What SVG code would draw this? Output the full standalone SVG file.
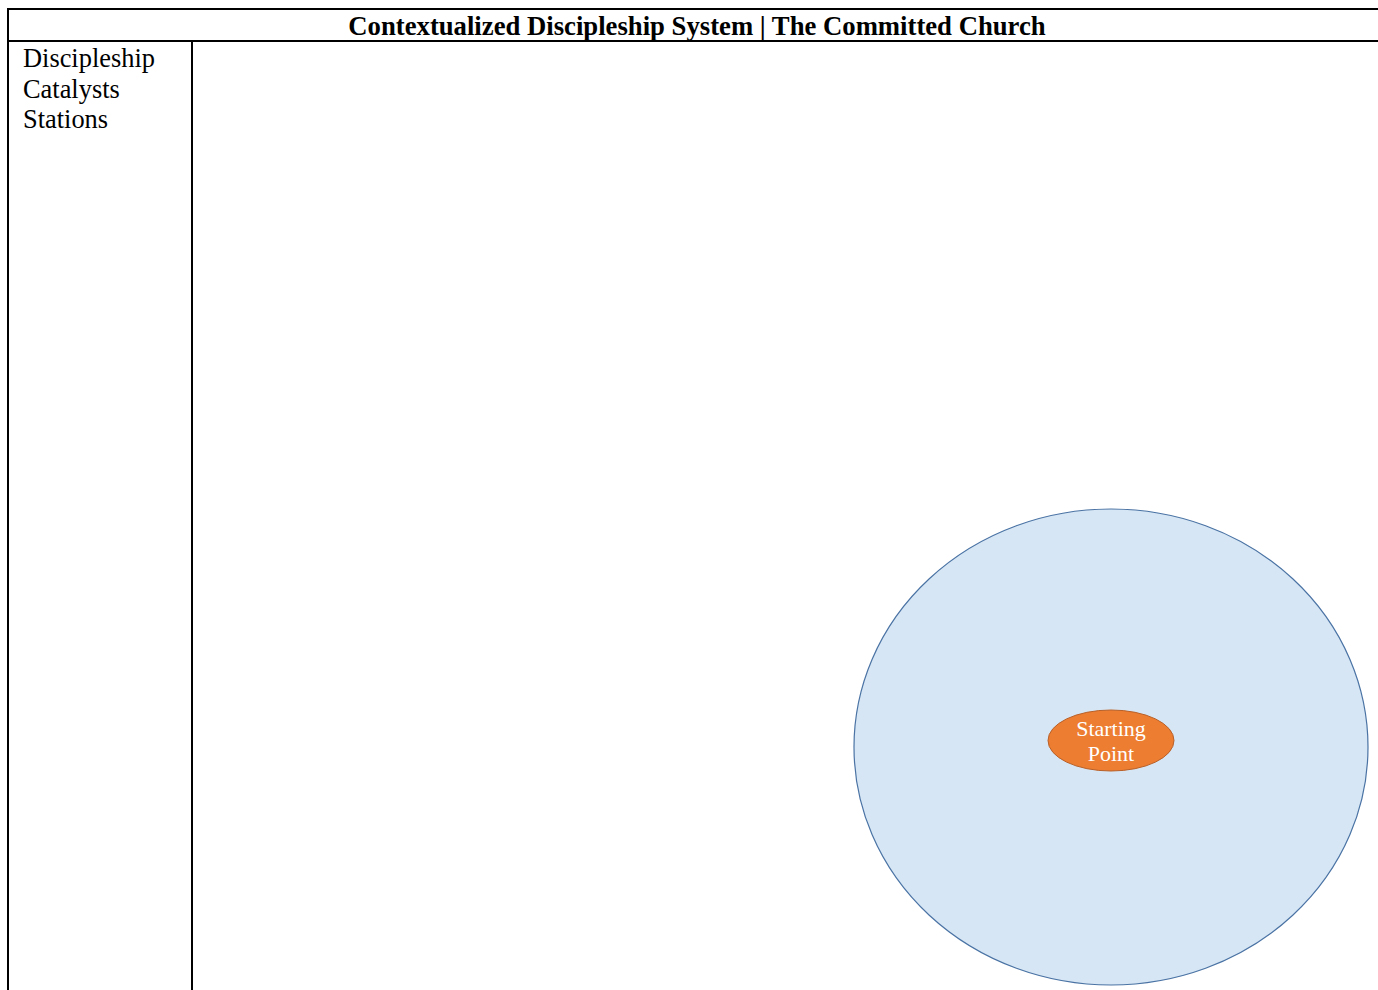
<svg xmlns="http://www.w3.org/2000/svg" width="1378" height="990" viewBox="0 0 1378 990">
<style>
.rule{stroke:#000;stroke-width:2;fill:none}
.title{font-family:"Liberation Serif","Times New Roman",serif;font-weight:bold;font-size:26.7px;fill:#000}
.side{font-family:"Liberation Serif","Times New Roman",serif;font-size:26.4px;fill:#000}
.lbl{font-family:"Liberation Serif","Times New Roman",serif;font-size:22px;fill:#fff}
</style>
<rect width="1378" height="990" fill="#fff"/>
<g id="table">
<line class="rule" x1="8" y1="9" x2="1378" y2="9"/>
<line class="rule" x1="8" y1="41" x2="1378" y2="41"/>
<line class="rule" x1="8" y1="8" x2="8" y2="990"/>
<line class="rule" x1="192" y1="41" x2="192" y2="990"/>
<text class="title" x="697" y="35" text-anchor="middle">Contextualized Discipleship System | The Committed Church</text>
<text class="side" x="23" y="67">Discipleship</text>
<text class="side" x="23" y="98">Catalysts</text>
<text class="side" x="23" y="128">Stations</text>
</g>
<g id="outer-circle">
<ellipse cx="1111" cy="747" rx="257" ry="238" fill="#d7e6f4" stroke="#4a73a4" stroke-width="1.2"/>
</g>
<g id="starting-point">
<ellipse cx="1111" cy="740.5" rx="63" ry="30.5" fill="#ed7d31" stroke="#b8612a" stroke-width="1"/>
<text class="lbl" x="1111" y="736" text-anchor="middle">Starting</text>
<text class="lbl" x="1111" y="761" text-anchor="middle">Point</text>
</g>
<g id="connectors"/>
</svg>
